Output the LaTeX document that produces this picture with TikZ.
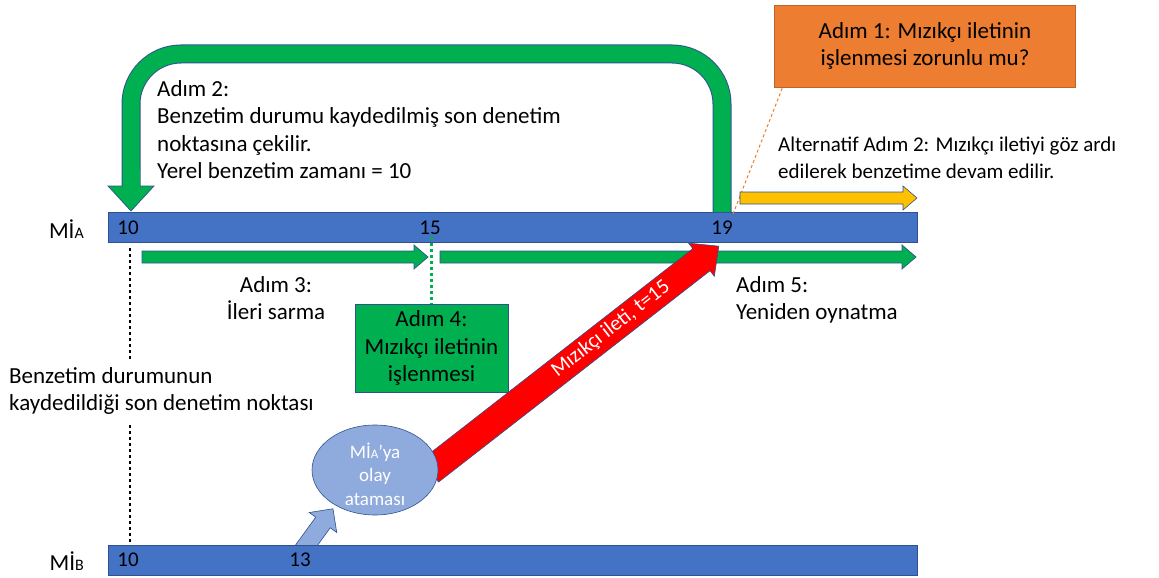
\documentclass[tikz,border=0pt]{standalone}
\usepackage{fontspec}
\setmainfont{Carlito}
\usetikzlibrary{shapes.geometric,calc}
\definecolor{barblue}{HTML}{4472C4}
\definecolor{edgeblue}{HTML}{2F528F}
\definecolor{stepgreen}{HTML}{00B050}
\definecolor{qorange}{HTML}{ED7D31}
\definecolor{altyellow}{HTML}{FFC000}
\definecolor{lightblue}{HTML}{8FAADC}
\definecolor{msgred}{HTML}{FF0000}

\begin{document}
\begin{tikzpicture}[x=1pt,y=-1pt,
  txt/.style={font=\fontsize{23}{27.5}\selectfont, inner sep=0pt},
  txtsmall/.style={font=\fontsize{21}{27}\selectfont, inner sep=0pt},
  timebar/.style={draw=edgeblue, fill=barblue, line width=0.8pt, minimum width=809pt, minimum height=30pt, inner sep=0pt},
  tick/.style={txtsmall},
  fatarrow/.style={fill=stepgreen, draw=edgeblue, line width=0.7pt},
  boxnode/.style={draw=edgeblue, line width=0.6pt, inner sep=0pt, align=center, txt}
]
\useasboundingbox (0,0) rectangle (1159,578);

% event scheduling arrow from B (tail hidden under the bar)
\begin{scope}[shift={(303,550)}, rotate=54]
  \fill[lightblue, draw=edgeblue, line width=0.6pt] (0pt,-9pt) -- (34pt,-9pt) -- (34pt,-17pt) -- (51pt,0pt) -- (34pt,17pt) -- (34pt,9pt) -- (0pt,9pt) -- cycle;
\end{scope}

% time bars of the two processes
\node[timebar] (barA) at (512.5,227.5) {};
\node[timebar] (barB) at (512.5,560.5) {};
\node[txt, anchor=east] (labA) at (84,229) {Mİ{\fontsize{16}{16}\selectfont A}};
\node[txt, anchor=east] (labB) at (84,561) {Mİ{\fontsize{16}{16}\selectfont B}};
\node[tick] (tA10) at (128,228) {10};
\node[tick] (tA15) at (430,228) {15};
\node[tick] (tA19) at (722,228) {19};
\node[tick] (tB10) at (128,560) {10};
\node[tick] (tB13) at (300,560) {13};

% rollback arrow (step 2)
\draw[edgeblue, line width=19pt, rounded corners=50pt] (722,212.5) -- (722,54) -- (131,54) -- (131,188);
\draw[stepgreen, line width=17pt, rounded corners=50pt] (722,212) -- (722,54) -- (131,54) -- (131,188);
\fill[stepgreen, draw=edgeblue, line width=0.7pt] (108,186) -- (154,186) -- (131,211) -- cycle;
\draw[stepgreen, line width=17pt] (131,170) -- (131,187);
\node[txt, anchor=north west, align=left] (step2) at (157,80)
  {Adım 2:\\Benzetim durumu kaydedilmiş son denetim\\noktasına çekilir.\\Yerel benzetim zamanı = 10};

% step 1 question
\node[boxnode, fill=qorange, draw=qorange!80!black, minimum width=301pt, minimum height=82pt] (qbox) at (925,46)
  {Adım 1: Mızıkçı iletinin\\işlenmesi zorunlu mu?};
\coordinate (p19) at (733,214);
\draw[qorange, line width=1pt, dash pattern=on 3pt off 2.5pt] ($(qbox.south west)+(8,1)$) -- (p19);

% alternative step 2
\fill[altyellow, draw=edgeblue, line width=0.6pt] (740,192) -- (903,192) -- (903,186) -- (917,198) -- (903,210) -- (903,204) -- (740,204) -- cycle;
\node[txtsmall, anchor=north west, align=left] (alt) at (778,137)
  {Alternatif Adım 2: Mızıkçı iletiyi göz ardı\\edilerek benzetime devam edilir.};

% step 3 and step 5 arrows
\fill[fatarrow] (142,251) -- (414,251) -- (414,245) -- (428,257) -- (414,269) -- (414,263) -- (142,263) -- cycle;
\fill[fatarrow] (440,251) -- (902,251) -- (902,245) -- (916,257) -- (902,269) -- (902,263) -- (440,263) -- cycle;
\node[txt, align=center] (step3) at (276,298) {Adım 3:\\İleri sarma};
\node[txt, anchor=north west, align=left] (step5) at (736,276) {Adım 5:\\Yeniden oynatma};

% step 4
\node[boxnode, fill=stepgreen, minimum width=153pt, minimum height=88pt] (step4) at (431.5,348) {Adım 4:\\Mızıkçı iletinin\\işlenmesi};
\draw[stepgreen, line width=3pt, dash pattern=on 3pt off 3pt] (tA15.south -| step4.north) ++(0,2) -- (step4.north);

% checkpoint marker
\node[txt, anchor=north west, align=left] (ckpt) at (9,367) {Benzetim durumunun\\kaydedildiği son denetim noktası};
\draw[black, line width=2.5pt, dash pattern=on 2.5pt off 3.5pt] (130,248) -- (130,360);
\draw[black, line width=2.5pt, dash pattern=on 2.5pt off 3.5pt] (130,425) -- (130,542);

% straggler message
\begin{scope}[shift={(430,471)}, rotate=37.9]
  \fill[msgred, draw=edgeblue, line width=0.6pt] (0pt,-14pt) -- (344pt,-14pt) -- (344pt,-21pt) -- (366pt,0pt) -- (344pt,21pt) -- (344pt,14pt) -- (0pt,14pt) -- cycle;
  \node[white, font=\fontsize{21}{21}\selectfont, inner sep=0pt, transform shape] (msg) at (230pt,1pt) {Mızıkçı ileti, t=15};
\end{scope}
\node[ellipse, fill=lightblue, draw=edgeblue, line width=0.6pt, minimum width=126pt, minimum height=90pt, inner sep=0pt] (evt) at (375,470) {};
\node[text=white, align=center, inner sep=0pt, font=\fontsize{19}{23.5}\selectfont] (evttext) at ($(evt.center)+(0,4)$)
  {Mİ{\fontsize{13}{13}\selectfont A}’ya\\olay\\ataması};
\end{tikzpicture}
\end{document}
